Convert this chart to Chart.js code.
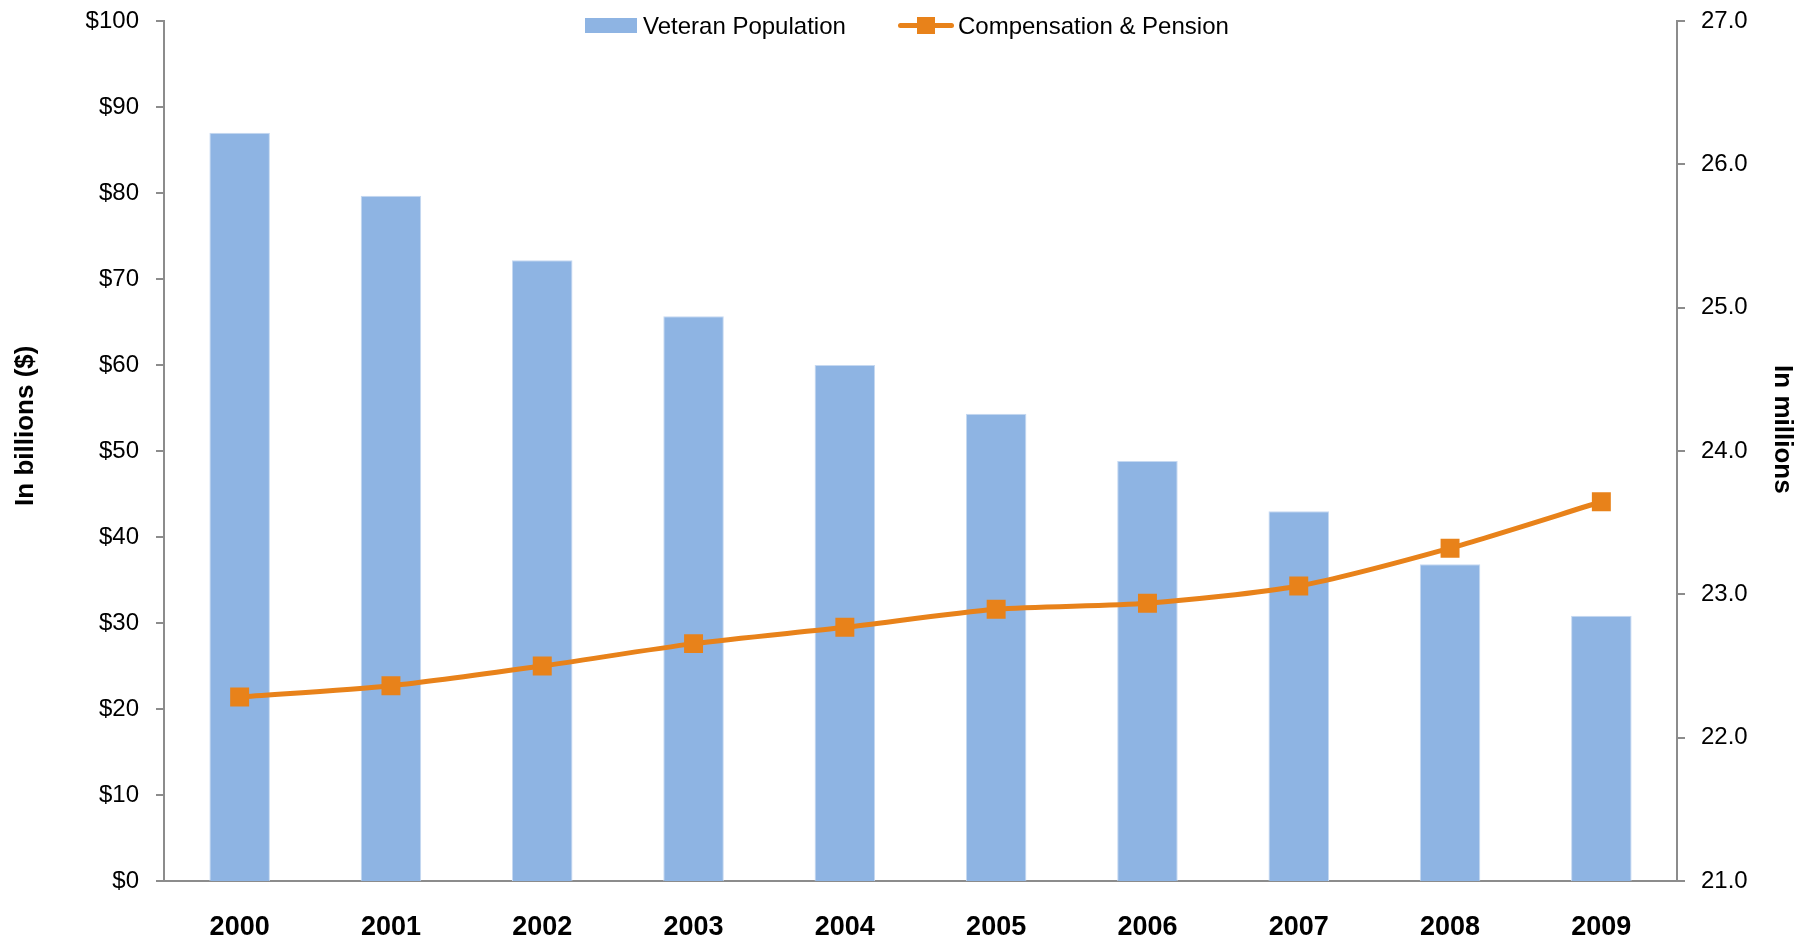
<!DOCTYPE html>
<html>
<head>
<meta charset="utf-8">
<script src="https://cdn.jsdelivr.net/npm/chart.js@4.4.1/dist/chart.umd.min.js"></script>
<style>
  html, body { margin: 0; padding: 0; background: #fff; }
  #wrap { position: relative; width: 1814px; height: 939px; }
  #legend { position: absolute; top: 0; left: 0; width: 100%; height: 50px; font-family: "Liberation Sans", Arial, sans-serif; font-size: 24px; color: #000; pointer-events: none; }
  .item { position: absolute; top: 12px; line-height: 27px; white-space: nowrap; }
  .swatch { position: absolute; }
</style>
</head>
<body>
<div id="wrap">
  <canvas id="chart"></canvas>
  <div id="legend"></div>
</div>
<script>
const years = ['2000', '2001', '2002', '2003', '2004', '2005', '2006', '2007', '2008', '2009'];
// Veteran population, in millions (right axis)
const veteranPopulation = [26.22, 25.78, 25.33, 24.94, 24.60, 24.26, 23.93, 23.58, 23.21, 22.85];
// Compensation & Pension, in billions of dollars (left axis)
const compensationPension = [21.4, 22.7, 25.0, 27.6, 29.5, 31.6, 32.3, 34.3, 38.7, 44.1];

const barColor = '#8EB4E3';
const lineColor = '#E8821A';
const axisColor = '#8C8C8C';
const tickFont = { family: 'Liberation Sans, Arial, sans-serif', size: 24 };
const titleFont = { family: 'Liberation Sans, Arial, sans-serif', size: 26, weight: 'bold' };
const nb = '\u00a0';

// legend drawn as html so it can sit inside the plot like the original
const legend = document.getElementById('legend');
legend.innerHTML =
  '<div class="swatch" style="left:585px;top:18px;width:52px;height:15px;background:' + barColor + '"></div>' +
  '<div class="item" style="left:643px">Veteran Population</div>' +
  '<div class="swatch" style="left:898px;top:23px;width:56px;height:5px;border-radius:3px;background:' + lineColor + '"></div>' +
  '<div class="swatch" style="left:917px;top:17px;width:18px;height:17px;background:' + lineColor + '"></div>' +
  '<div class="item" style="left:958px">Compensation &amp; Pension</div>';

// fixed axis sizes so the plot area lands where the original has it
function fitLeft(scale) { scale.width = 164; scale.paddingTop = 0; scale.paddingBottom = 0; }
function fitRight(scale) { scale.width = 137; scale.paddingTop = 0; scale.paddingBottom = 0; }

const ctx = document.getElementById('chart').getContext('2d');
new Chart(ctx, {
  data: {
    labels: years,
    datasets: [
      {
        type: 'line',
        label: 'Compensation & Pension',
        data: compensationPension,
        yAxisID: 'y',
        borderColor: lineColor,
        backgroundColor: lineColor,
        borderWidth: 5,
        tension: 0.25,
        pointStyle: 'rect',
        pointRadius: 13.4,
        pointBorderWidth: 0,
        pointBackgroundColor: lineColor,
        order: 1
      },
      {
        type: 'bar',
        label: 'Veteran Population',
        data: veteranPopulation,
        yAxisID: 'y1',
        backgroundColor: barColor,
        borderColor: '#C6D9F1',
        borderWidth: 1,
        barPercentage: 0.4,
        categoryPercentage: 1.0,
        order: 2
      }
    ]
  },
  options: {
    responsive: true,
    maintainAspectRatio: false,
    animation: false,
    layout: { padding: { top: 21, left: 0, right: 0, bottom: 0 } },
    plugins: {
      legend: { display: false },
      tooltip: { enabled: false }
    },
    scales: {
      x: {
        afterFit: (scale) => { scale.height = 58; },
        grid: { display: false, drawTicks: false },
        border: { display: true, color: axisColor, width: 2 },
        ticks: {
          color: '#000',
          padding: 30,
          font: { family: 'Liberation Sans, Arial, sans-serif', size: 27, weight: 'bold' }
        }
      },
      y: {
        position: 'left',
        min: 0,
        max: 100,
        afterFit: fitLeft,
        grid: { drawOnChartArea: false, drawTicks: true, tickLength: 8, color: axisColor, lineWidth: 2 },
        border: { display: true, color: axisColor, width: 2 },
        ticks: {
          stepSize: 10,
          padding: 17,
          color: '#000',
          font: tickFont,
          callback: (v) => '$' + v
        },
        title: {
          display: true,
          // leading spaces nudge the title up a little, as in the original
          text: nb.repeat(7) + 'In billions ($)',
          color: '#000',
          font: titleFont,
          padding: { top: 10, bottom: 0 }
        }
      },
      y1: {
        position: 'right',
        min: 21,
        max: 27,
        afterFit: fitRight,
        grid: { drawOnChartArea: false, drawTicks: true, tickLength: 8, color: axisColor, lineWidth: 2 },
        border: { display: true, color: axisColor, width: 2 },
        ticks: {
          stepSize: 1,
          padding: 16,
          color: '#000',
          font: tickFont,
          callback: (v) => Number(v).toFixed(1)
        },
        title: {
          display: true,
          text: 'In millions' + nb.repeat(6),
          color: '#000',
          font: titleFont,
          padding: { top: 16, bottom: 0 }
        }
      }
    }
  }
});
</script>
</body>
</html>
